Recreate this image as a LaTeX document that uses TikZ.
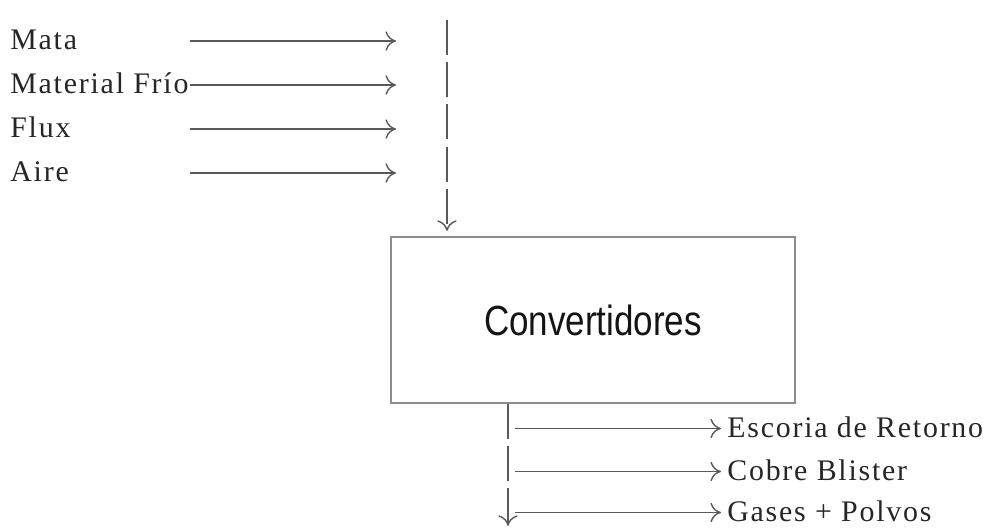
\documentclass[tikz,border=0pt]{standalone}
\usepackage{fontspec}
\setmainfont[LetterSpace=6]{Liberation Serif}
\newfontfamily\unitfont[FakeStretch=0.83]{Liberation Sans}
\usetikzlibrary{arrows.meta, positioning}

\tikzset{
  flow/.style={draw=black!65, line width=0.8pt, -{To[length=6pt,width=11pt]}},
  broken/.style={dash pattern=on 20pt off 4pt},
  streamtxt/.style={inner sep=0pt, text=black!85, font=\fontsize{17}{20}\selectfont},
  unit/.style={draw=black!45, line width=1pt, inner sep=0pt,
    minimum width=8.08cm, minimum height=3.32cm, text=black!92,
    font=\unitfont\fontsize{24}{28}\selectfont}
}

\begin{document}
\begin{tikzpicture}[x=0.02cm, y=-0.02cm]
  \useasboundingbox (0,0) rectangle (991,531);

  % Converter block
  \node[unit] (conv) at (593,320) {Convertidores};

  % Feeds on the left
  \foreach \name/\txt/\yb in {mata/Mata/49, frio/Material Frío/93, flux/Flux/137, aire/Aire/181} {
    \node[streamtxt, anchor=base west] (\name) at (10,\yb) {\txt};
    \coordinate (\name-s) at (190,\yb-8);
    \coordinate (\name-e) at (396,\yb-8);
    \draw[flow] (\name-s) -- (\name-e);
  }

  % Feed line into the converter
  \coordinate (feed) at (447,20);
  \draw[flow, broken, shorten >=3pt] (feed) -- (feed |- conv.north);

  % Products leaving the converter
  \path (conv.south) ++(-85,0) coordinate (out);
  \draw[flow, broken] (out) -- ++(0,122);

  \foreach \name/\txt/\yb in {esc/Escoria de Retorno/437, blis/Cobre Blister/480, gas/Gases + Polvos/521} {
    \node[streamtxt, anchor=base west] (\name) at (727,\yb) {\txt};
    \coordinate (\name-s) at (515,\yb-8.5);
    \coordinate (\name-e) at (721,\yb-8.5);
    \draw[flow] (\name-s) -- (\name-e);
  }
\end{tikzpicture}
\end{document}
